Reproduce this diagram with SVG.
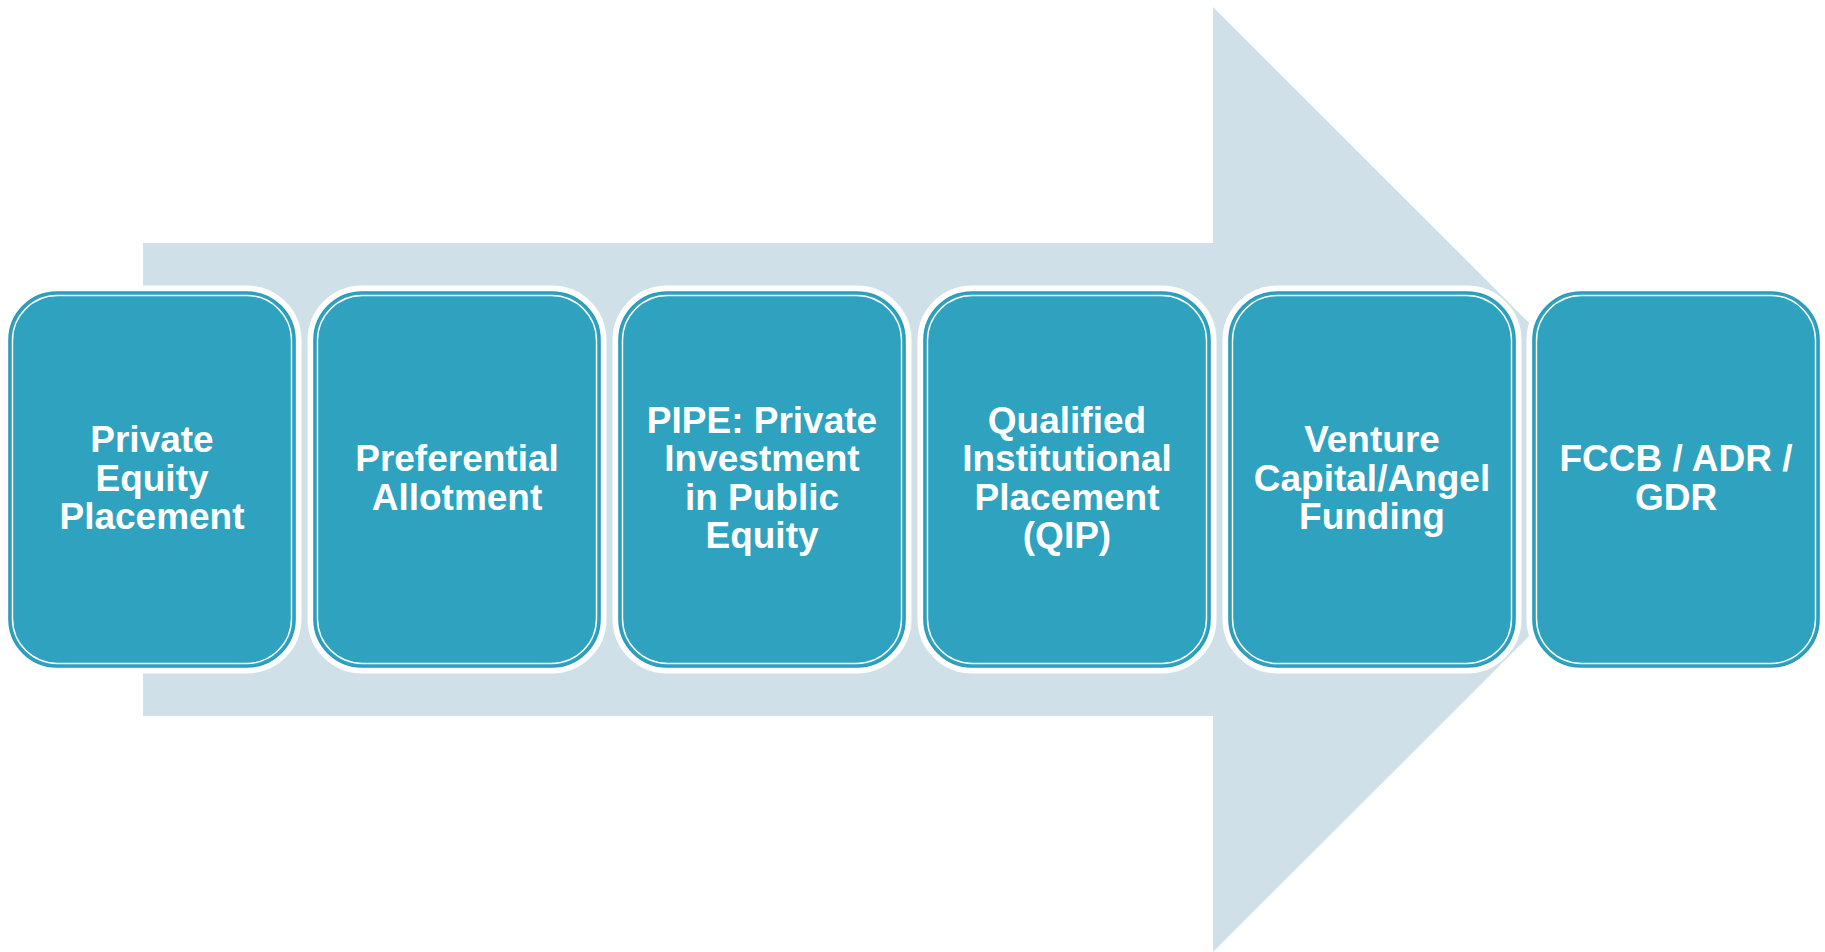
<svg xmlns="http://www.w3.org/2000/svg" width="1825" height="952" viewBox="0 0 1825 952">
<style>
.halo{fill:#FFFFFF;stroke:#FFFFFF;stroke-width:13}
.box{fill:#2EA2BF;stroke:#2A9AB8;stroke-width:1.6}
.inner{fill:none;stroke:#FFFFFF;stroke-width:1.4}
.lbl{font-family:"Liberation Sans",Arial,sans-serif;font-weight:bold;font-size:37px;fill:#FFFFFF;text-anchor:middle}
</style>
<rect width="1825" height="952" fill="#FFFFFF"/>
<g id="arrow">
<polygon points="143,243 1213,243 1213,7 1686,479.5 1213,952 1213,716 143,716" fill="#CFE0E8"/>
</g>
<g id="connectors"></g>
<g id="node1">
<rect class="halo" x="9" y="292" width="286" height="375" rx="48"/>
<rect class="box" x="9" y="292" width="286" height="375" rx="48"/>
<rect class="inner" x="12.5" y="295.5" width="279" height="368" rx="45"/>
<text class="lbl" x="152" y="452">Private</text>
<text class="lbl" x="152" y="490.5">Equity</text>
<text class="lbl" x="152" y="529">Placement</text>
</g>
<g id="node2">
<rect class="halo" x="314" y="292" width="286" height="375" rx="48"/>
<rect class="box" x="314" y="292" width="286" height="375" rx="48"/>
<rect class="inner" x="317.5" y="295.5" width="279" height="368" rx="45"/>
<text class="lbl" x="457" y="471.25">Preferential</text>
<text class="lbl" x="457" y="509.75">Allotment</text>
</g>
<g id="node3">
<rect class="halo" x="619" y="292" width="286" height="375" rx="48"/>
<rect class="box" x="619" y="292" width="286" height="375" rx="48"/>
<rect class="inner" x="622.5" y="295.5" width="279" height="368" rx="45"/>
<text class="lbl" x="762" y="432.75">PIPE: Private</text>
<text class="lbl" x="762" y="471.25">Investment</text>
<text class="lbl" x="762" y="509.75">in Public</text>
<text class="lbl" x="762" y="548.25">Equity</text>
</g>
<g id="node4">
<rect class="halo" x="924" y="292" width="286" height="375" rx="48"/>
<rect class="box" x="924" y="292" width="286" height="375" rx="48"/>
<rect class="inner" x="927.5" y="295.5" width="279" height="368" rx="45"/>
<text class="lbl" x="1067" y="432.75">Qualified</text>
<text class="lbl" x="1067" y="471.25">Institutional</text>
<text class="lbl" x="1067" y="509.75">Placement</text>
<text class="lbl" x="1067" y="548.25">(QIP)</text>
</g>
<g id="node5">
<rect class="halo" x="1229" y="292" width="286" height="375" rx="48"/>
<rect class="box" x="1229" y="292" width="286" height="375" rx="48"/>
<rect class="inner" x="1232.5" y="295.5" width="279" height="368" rx="45"/>
<text class="lbl" x="1372" y="452">Venture</text>
<text class="lbl" x="1372" y="490.5">Capital/Angel</text>
<text class="lbl" x="1372" y="529">Funding</text>
</g>
<g id="node6">
<rect class="halo" x="1533" y="292" width="286" height="375" rx="48"/>
<rect class="box" x="1533" y="292" width="286" height="375" rx="48"/>
<rect class="inner" x="1536.5" y="295.5" width="279" height="368" rx="45"/>
<text class="lbl" x="1676" y="471.25">FCCB / ADR /</text>
<text class="lbl" x="1676" y="509.75">GDR</text>
</g>
</svg>
